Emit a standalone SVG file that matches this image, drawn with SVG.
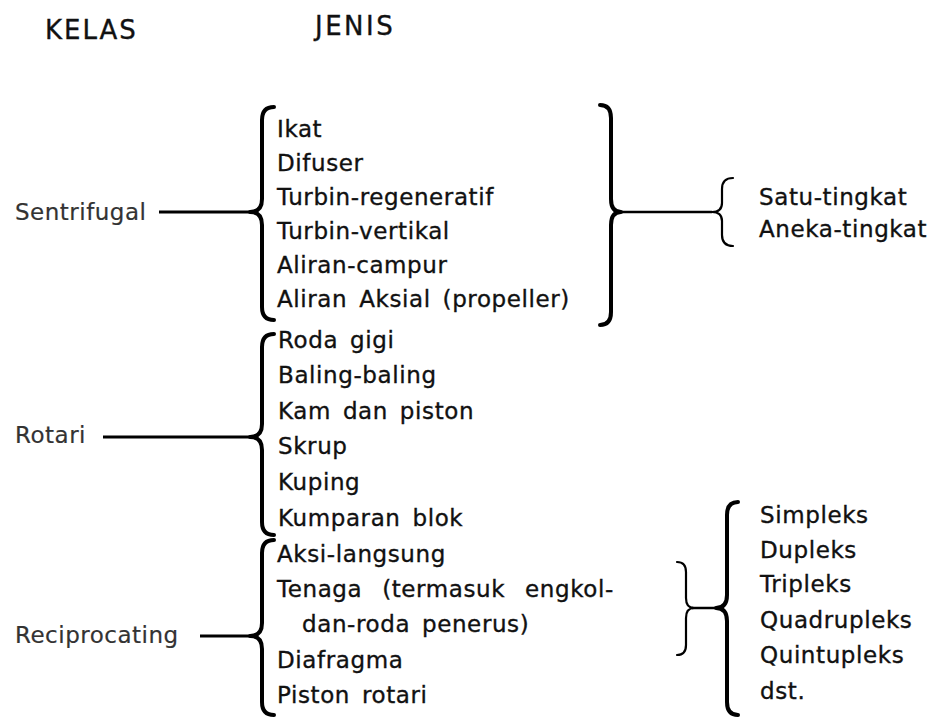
<svg xmlns="http://www.w3.org/2000/svg" width="933" height="717" viewBox="0 0 933 717">
<style>
text{font-family:"DejaVu Sans","Liberation Sans",sans-serif;fill:#111;stroke:#111;stroke-width:0.35;}
.h{font-size:26px;letter-spacing:2px;}
.t{font-size:23px;letter-spacing:0.6px;word-spacing:4px;}
.lbl{font-size:23px;letter-spacing:0.5px;fill:#333;stroke:#333;stroke-width:0.2;}
.thick{fill:none;stroke:#000;stroke-width:4;stroke-linecap:round;stroke-linejoin:round;}
.thin{fill:none;stroke:#000;stroke-width:2.2;stroke-linecap:round;stroke-linejoin:round;}
.ln{stroke:#000;stroke-width:3;}
.ln2{stroke:#000;stroke-width:2.5;}
</style>
<rect width="933" height="717" fill="#fff"/>
<g id="headers">
<text class="h" x="45" y="39">KELAS</text>
<text class="h" x="315" y="35" style="letter-spacing:2.5px">JENIS</text>
</g>
<g id="connectors">
<line class="ln" x1="159" y1="212" x2="251" y2="212"/>
<path class="thick" d="M274,107 Q262,107 262,120 L262,199 Q262,212 250,212 Q262,212 262,225 L262,307 Q262,320 274,320"/>
<path class="thick" d="M600,105 Q611,105 611,118 L611,199 Q611,212 621,212 Q611,212 611,225 L611,312 Q611,325 600,325"/>
<line class="ln2" x1="620" y1="212" x2="712" y2="212"/>
<path class="thin" d="M733,178 Q722,178 722,189 L722,203 Q722,212 712,212 Q722,212 722,221 L722,235 Q722,246 733,246"/>
<line class="ln" x1="103" y1="437" x2="251" y2="437"/>
<path class="thick" d="M274,334 Q262,334 262,347 L262,424 Q262,437 250,437 Q262,437 262,450 L262,522 Q262,535 274,535"/>
<line class="ln" x1="200" y1="636" x2="251" y2="636"/>
<path class="thick" d="M274,540 Q262,540 262,553 L262,623 Q262,636 250,636 Q262,636 262,649 L262,702 Q262,715 274,715"/>
<path class="thin" d="M677,562 Q686,562 686,572 L686,598 Q686,608 694,608 Q686,608 686,618 L686,645 Q686,655 677,655"/>
<line class="ln2" x1="692" y1="608" x2="717" y2="608"/>
<path class="thick" d="M738,502 Q727,502 727,515 L727,595 Q727,608 716,608 Q727,608 727,621 L727,702 Q727,715 738,715"/>
</g>
<g id="sentrifugal">
<text class="lbl" x="15" y="220">Sentrifugal</text>
<text class="t" x="277" y="137">Ikat</text>
<text class="t" x="277" y="171">Difuser</text>
<text class="t" x="277" y="205">Turbin-regeneratif</text>
<text class="t" x="277" y="239">Turbin-vertikal</text>
<text class="t" x="277" y="273">Aliran-campur</text>
<text class="t" x="277" y="307">Aliran Aksial (propeller)</text>
</g>
<g id="tingkat">
<text class="t" x="759" y="205">Satu-tingkat</text>
<text class="t" x="759" y="237">Aneka-tingkat</text>
</g>
<g id="rotari">
<text class="lbl" x="15" y="443">Rotari</text>
<text class="t" x="278" y="348">Roda gigi</text>
<text class="t" x="278" y="383">Baling-baling</text>
<text class="t" x="278" y="419">Kam dan piston</text>
<text class="t" x="278" y="454">Skrup</text>
<text class="t" x="278" y="490">Kuping</text>
<text class="t" x="278" y="526">Kumparan blok</text>
</g>
<g id="reciprocating">
<text class="lbl" x="15" y="643">Reciprocating</text>
<text class="t" x="277" y="562">Aksi-langsung</text>
<text class="t" x="277" y="597" style="word-spacing:12px">Tenaga (termasuk engkol-</text>
<text class="t" x="302" y="632">dan-roda penerus)</text>
<text class="t" x="277" y="668">Diafragma</text>
<text class="t" x="277" y="703">Piston rotari</text>
</g>
<g id="silinder">
<text class="t" x="760" y="523">Simpleks</text>
<text class="t" x="760" y="558">Dupleks</text>
<text class="t" x="760" y="592">Tripleks</text>
<text class="t" x="760" y="628">Quadrupleks</text>
<text class="t" x="760" y="663">Quintupleks</text>
<text class="t" x="760" y="699">dst.</text>
</g>
</svg>
